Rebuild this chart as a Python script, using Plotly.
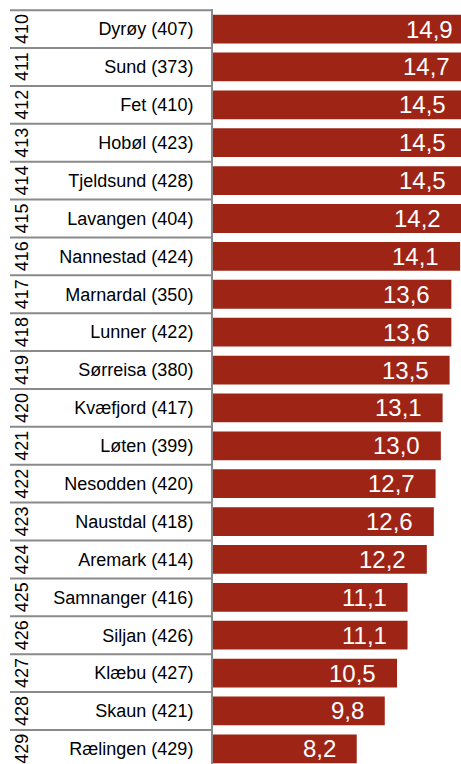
import plotly.graph_objects as go

# Municipality ranking: rank, name (with count) and value
ranks = [410, 411, 412, 413, 414, 415, 416, 417, 418, 419,
         420, 421, 422, 423, 424, 425, 426, 427, 428, 429]
names = ["Dyrøy (407)", "Sund (373)", "Fet (410)", "Hobøl (423)", "Tjeldsund (428)",
         "Lavangen (404)", "Nannestad (424)", "Marnardal (350)", "Lunner (422)", "Sørreisa (380)",
         "Kvæfjord (417)", "Løten (399)", "Nesodden (420)", "Naustdal (418)", "Aremark (414)",
         "Samnanger (416)", "Siljan (426)", "Klæbu (427)", "Skaun (421)", "Rælingen (429)"]
values = [14.9, 14.7, 14.5, 14.5, 14.5, 14.2, 14.1, 13.6, 13.6, 13.5,
          13.1, 13.0, 12.7, 12.6, 12.2, 11.1, 11.1, 10.5, 9.8, 8.2]

BAR_COLOR = "#9E2416"
LINE_COLOR = "#8a8a8a"
FONT = "Liberation Sans, Arial, sans-serif"

W, H = 461, 764
ML, MT = 213, 9
plot_w = W - ML
X_MAX = 14.15          # visible value range; longest bars run past the right edge
Y_TOP, Y_BOT = -0.53, 19.4

fig = go.Figure()
fig.add_trace(go.Bar(
    x=values, y=names, orientation="h",
    marker=dict(color=BAR_COLOR, line=dict(width=0)),
    width=0.76, hoverinfo="skip", cliponaxis=True,
))

def fmt(v):
    return f"{v:.1f}".replace(".", ",")

annotations = []
# value labels inside the bar ends
for n, v in zip(names, values):
    annotations.append(dict(
        x=v - 1.08, y=n, xref="x", yref="y", text=fmt(v), showarrow=False,
        xanchor="right", yanchor="middle",
        font=dict(family=FONT, size=24, color="white"),
    ))

# rotated rank numbers in the left column
def px_to_paper(px):
    return (px - ML) / plot_w

for r, n in zip(ranks, names):
    annotations.append(dict(
        x=px_to_paper(22), y=n, xref="paper", yref="y", text=str(r), showarrow=False,
        textangle=-90, xanchor="center", yanchor="middle",
        font=dict(family=FONT, size=18, color="black"),
    ))

# row separators across the label table
shapes = []
for i in range(len(names) + 1):
    shapes.append(dict(
        type="line", xref="paper", yref="y",
        x0=px_to_paper(10), x1=0, y0=i - 0.5, y1=i - 0.5,
        line=dict(color=LINE_COLOR, width=2),
    ))

fig.update_layout(
    width=W, height=H,
    margin=dict(l=ML, r=0, t=MT, b=0, pad=0),
    paper_bgcolor="white", plot_bgcolor="white",
    showlegend=False,
    bargap=0.24,
    font=dict(family=FONT, color="black"),
    annotations=annotations,
    shapes=shapes,
    xaxis=dict(range=[0, X_MAX], showgrid=False, zeroline=False,
               showticklabels=False, showline=False, ticks="", fixedrange=True),
    yaxis=dict(type="category", categoryorder="array", categoryarray=names,
               range=[Y_BOT, Y_TOP], showgrid=False, zeroline=False,
               showline=True, linecolor=LINE_COLOR, linewidth=2,
               ticks="", ticklabelstandoff=14,
               tickfont=dict(family=FONT, size=18, color="black"),
               fixedrange=True),
)

fig.write_html("out.html")
